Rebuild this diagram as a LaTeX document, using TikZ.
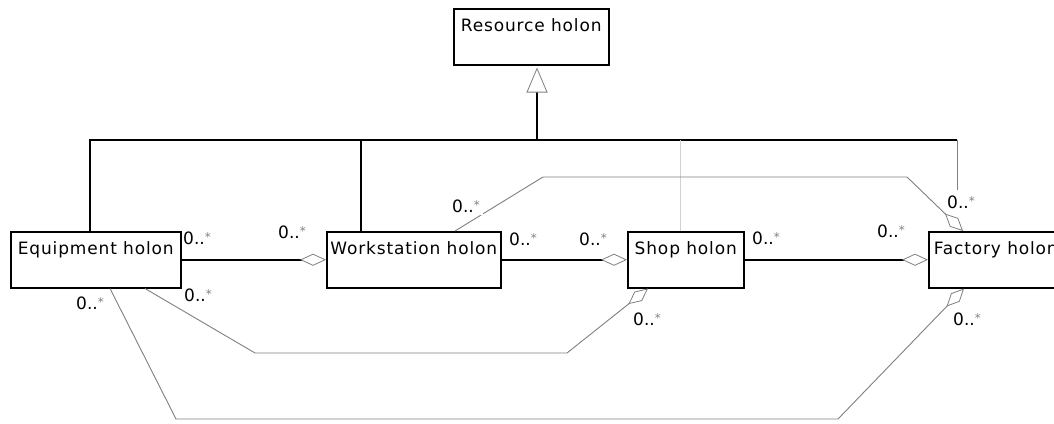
\documentclass[tikz,border=0pt]{standalone}
\usepackage{fontspec}
\newfontfamily\umlfont{DejaVu Sans}[LetterSpace=5]
\newfontfamily\multfont{DejaVu Sans}
\usepackage{tikz}
\usetikzlibrary{arrows.meta,calc,positioning}
\tikzset{
  holon/.style={draw,line width=1.5pt,anchor=north west,inner xsep=0pt,inner ysep=0pt,
    text height=23pt,text depth=33pt,font=\umlfont\fontsize{17}{20}\selectfont},
  gen/.style={line width=1.5pt},
  agg/.style={line width=1.5pt,
    -{Diamond[length=26pt,width=12pt,fill=white,color=gray,line width=0.8pt]}},
  assoc/.style={gray,line width=0.9pt,
    -{Diamond[length=25pt,width=12pt,fill=white,line width=0.8pt]}},
  mult/.style={inner sep=1pt,font=\multfont\fontsize{17}{20}\selectfont}
}
\newcommand{\many}{0..{\color{gray}\fontsize{12}{12}\selectfont\raisebox{3pt}{*}}}

\begin{document}
\begin{tikzpicture}[x=1pt,y=-1pt]
  \useasboundingbox[fill=white] (0,0) rectangle (1054,423);
  % classes
  \node[holon,minimum width=155pt] (res) at (453,8) {Resource holon};
  \node[holon,minimum width=170pt] (eq) at (10,231) {Equipment holon};
  \node[holon,minimum width=174pt] (ws) at (326,231) {Workstation holon};
  \node[holon,minimum width=116pt] (shop) at (627,231) {Shop holon};
  \node[holon,minimum width=134pt] (fac) at (928,231) {Factory holon};
  % generalisation
  \coordinate (hub) at (537,140);
  \draw[gen] ($(eq.north west)+(80,0)$) |- (hub);
  \draw[gen] ($(ws.north west)+(35,0)$) -- ++(0,-91);
  \draw[gen] (hub) -- (957,140);
  \draw[gray,line width=0.8pt] (957,140) -- (957,190);
  \draw[gray!35,line width=1pt] ($(shop.north west)+(53,0)$) -- ++(0,-91);
  \draw[gen,-{Triangle[length=25pt,width=21pt,fill=white,color=gray,line width=0.8pt]}]
    (hub) -- ($(res.south west)+(84,2)$);
  % aggregations
  \draw[agg] (eq.east) -- (ws.west);
  \draw[agg] (ws.east) -- (shop.west);
  \draw[agg] (shop.east) -- (fac.west);
  \draw[assoc] ($(ws.north west)+(129,0)$) -- (543,177) -- (907,177)
    -- ($(fac.north west)+(35,0)$);
  \draw[assoc] ($(eq.south west)+(135,0)$) -- (255,353) -- (567,353)
    -- ($(shop.south west)+(21,0)$);
  \draw[assoc] ($(eq.south west)+(100,0)$) -- (176,419) -- (838,419)
    -- ($(fac.south west)+(36,0)$);
  % multiplicities
  \node[mult] (m1) at (197,238) {\many};
  \node[mult] (m2) at (292,232) {\many};
  \node[mult] (m3) at (198,295) {\many};
  \node[mult] (m4) at (90,303) {\many};
  \node[mult] (m5) at (523,239) {\many};
  \node[mult] (m6) at (593,239) {\many};
  \node[mult] (m7) at (647,319) {\many};
  \node[mult] (m8) at (766,238) {\many};
  \node[mult] (m9) at (891,231) {\many};
  \node[mult] (m10) at (961,202) {\many};
  \node[mult] (m11) at (967,319) {\many};
  \node[mult,fill=white,inner sep=3pt] (m12) at (466,206) {\many};
\end{tikzpicture}
\end{document}
